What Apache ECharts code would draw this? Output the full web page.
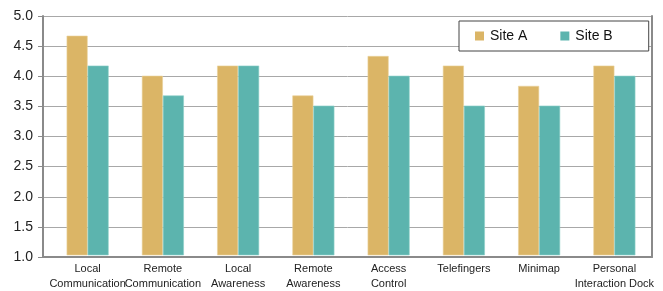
<!DOCTYPE html>
<html>
<head>
<meta charset="utf-8">
<script src="https://cdn.jsdelivr.net/npm/echarts@6/dist/echarts.min.js"></script>
<style>
  body { margin: 0; background: #fff; }
  #chart { width: 663px; height: 291px; }
</style>
</head>
<body>
<div id="chart"></div>
<script>
// categories
var categories = [
  "Local\nCommunication", "Remote\nCommunication", "Local\nAwareness", "Remote\nAwareness",
  "Access\nControl", "Telefingers", "Minimap", "Personal\nInteraction Dock"
];
// scores per site
var siteA = [4.67, 4.0, 4.17, 3.67, 4.33, 4.17, 3.83, 4.17];
var siteB = [4.17, 3.67, 4.17, 3.5, 4.0, 3.5, 3.5, 4.0];
var yTicks = [1.0, 1.5, 2.0, 2.5, 3.0, 3.5, 4.0, 4.5, 5.0];

var yMin = yTicks[0];
var yMax = yTicks[yTicks.length - 1];

var chart = echarts.init(document.getElementById("chart"));
var option = {
  animation: false,
  textStyle: { fontFamily: "Liberation Sans, Arial, sans-serif" },
  // grid 0: frame + gridlines, grid 1: bars (categories start a bit right of the axis)
  grid: [
    { left: 43, right: 11, top: 16, bottom: 34, z: 0 },
    { left: 50, right: 11, top: 16, bottom: 34 }
  ],
  legend: {
    data: ["Site A", "Site B"],
    left: 459,
    top: 21,
    orient: "horizontal",
    itemWidth: 9,
    itemHeight: 9,
    itemGap: 33,
    icon: "rect",
    padding: [8, 36, 8, 16],
    borderColor: "#444",
    borderWidth: 1,
    backgroundColor: "#fff",
    itemStyle: { borderWidth: 0 },
    textStyle: { fontSize: 14, color: "#111", padding: [0, 0, 0, 1] }
  },
  xAxis: [
    {
      gridIndex: 0,
      type: "category",
      data: categories,
      axisLine: { lineStyle: { color: "#8a8a8a", width: 2 } },
      axisTick: { show: false },
      axisLabel: { show: false }
    },
    {
      gridIndex: 1,
      type: "category",
      data: categories,
      axisLine: { show: false },
      axisTick: { show: false },
      axisLabel: { fontSize: 11, color: "#222", lineHeight: 15, margin: 6, interval: 0 }
    }
  ],
  yAxis: [
    {
      gridIndex: 0,
      type: "value",
      min: yMin,
      max: yMax,
      interval: 0.5,
      axisLine: { show: true, lineStyle: { color: "#8a8a8a", width: 2 } },
      axisTick: { show: true, length: 5, lineStyle: { color: "#8a8a8a" } },
      axisLabel: {
        fontSize: 14, color: "#222", margin: 10,
        formatter: function (v) { return v.toFixed(1); }
      },
      splitLine: { lineStyle: { color: "#a8a8a8", width: 1 } }
    },
    {
      gridIndex: 0,
      type: "value",
      position: "right",
      min: yMin,
      max: yMax,
      interval: 0.5,
      axisLine: { show: true, lineStyle: { color: "#8a8a8a", width: 2 } },
      axisTick: { show: false },
      axisLabel: { show: false },
      splitLine: { show: false }
    },
    {
      gridIndex: 1,
      type: "value",
      min: yMin,
      max: yMax,
      interval: 0.5,
      axisLine: { show: false },
      axisTick: { show: false },
      axisLabel: { show: false },
      splitLine: { show: false }
    }
  ],
  series: [
    {
      name: "Site A",
      type: "bar",
      xAxisIndex: 1,
      yAxisIndex: 2,
      data: siteA,
      barWidth: 21,
      barGap: "0%",
      itemStyle: { color: "#dbb566", borderColor: "#ead29a", borderWidth: 0.6 }
    },
    {
      name: "Site B",
      type: "bar",
      xAxisIndex: 1,
      yAxisIndex: 2,
      data: siteB,
      barWidth: 21,
      itemStyle: { color: "#5cb4ae", borderColor: "#8fd0ca", borderWidth: 0.6 }
    }
  ]
};
chart.setOption(option);
</script>
</body>
</html>
